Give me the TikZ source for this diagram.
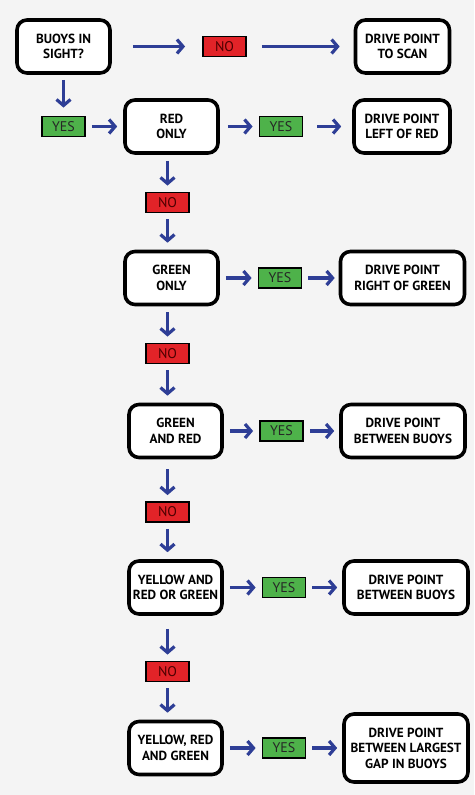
\documentclass[tikz,border=0pt]{standalone}
\usepackage{fontspec}
\setmainfont{PT Sans}
\usetikzlibrary{arrows.meta}
\definecolor{flowblue}{RGB}{46,62,150}
\definecolor{nored}{RGB}{226,35,40}
\definecolor{yesgreen}{RGB}{78,178,74}
\definecolor{paper}{RGB}{244,244,244}

\begin{document}
\begin{tikzpicture}[x=1pt, y=1pt, -{Straight Barb[length=6pt,width=14pt]}, line width=3.2pt, draw=flowblue, shorten <=6pt, shorten >=6pt]

%====Stili dei blocchi========================================================

	\tikzstyle{check}=[draw=black, text=black, fill=white, line width=3.6pt, rounded corners=10pt, minimum width=93pt, minimum height=53pt, inner sep=1pt, align=center, font=\fontsize{13.2}{15.5}\selectfont\bfseries]
	\tikzstyle{goal}=[check, minimum width=124pt]
	\tikzstyle{yesbox}=[draw=black, fill=yesgreen, text=black!85, line width=1.8pt, minimum width=43pt, minimum height=20pt, inner sep=0pt, font=\fontsize{14}{14}\selectfont]
	\tikzstyle{nobox}=[yesbox, fill=nored, text=black!70!red]

	\fill[paper, -, shorten <=0pt, shorten >=0pt] (0,0) rectangle (474,-795);

%====Blocchi e posizione=======================================================
	\node[check]                    (buoys) at (63.5,-46.5)                          {BUOYS IN\\SIGHT?};
	\node[nobox]                    (no0)   [right of=buoys, node distance=161pt]    {NO};
	\node[goal, minimum width=94pt] (scan)  [right of=no0, node distance=178pt]      {DRIVE POINT\\TO SCAN};

	\node[yesbox]                   (yes0)  [below of=buoys, node distance=80pt]     {YES};
	\node[check]                    (red)   [right of=yes0, node distance=108pt]     {RED\\ONLY};
	\node[yesbox]                   (yes1)  [right of=red, node distance=109.5pt]    {YES};
	\node[goal, minimum width=96pt] (left)  [right of=yes1, node distance=121pt]     {DRIVE POINT\\LEFT OF RED};

	\node[nobox]                    (no1)   [below of=red, node distance=76pt, xshift=-4pt]    {NO};
	\node[check]                    (green) [below of=no1, node distance=75.5pt, xshift=4pt]   {GREEN\\ONLY};
	\node[yesbox]                   (yes2)  [right of=green, node distance=108.5pt]  {YES};
	\node[goal]                     (right) [right of=yes2, node distance=122.5pt]   {DRIVE POINT\\RIGHT OF GREEN};

	\node[nobox]                    (no2)   [below of=green, node distance=75.5pt, xshift=-4pt] {NO};
	\node[check]                    (gr)    [below of=no2, node distance=77.5pt, xshift=8pt]    {GREEN\\AND RED};
	\node[yesbox]                   (yes3)  [right of=gr, node distance=106pt]       {YES};
	\node[goal]                     (btw1)  [right of=yes3, node distance=121.5pt]   {DRIVE POINT\\BETWEEN BUOYS};

	\node[nobox]                    (no3)   [below of=gr, node distance=81pt, xshift=-8pt]      {NO};
	\node[check]                    (yrg)   [below of=no3, node distance=75.5pt, xshift=8pt]    {YELLOW AND\\RED OR GREEN};
	\node[yesbox]                   (yes4)  [right of=yrg, node distance=108.5pt]    {YES};
	\node[goal]                     (btw2)  [right of=yes4, node distance=122pt]     {DRIVE POINT\\BETWEEN BUOYS};

	\node[nobox]                    (no4)   [below of=yrg, node distance=84pt, xshift=-8pt]     {NO};
	\node[check]                    (all)   [below of=no4, node distance=76.5pt, xshift=8pt]    {YELLOW, RED\\AND GREEN};
	\node[yesbox]                   (yes5)  [right of=all, node distance=108.5pt]    {YES};
	\node[goal, minimum height=68pt] (gap)  [right of=yes5, node distance=122pt]     {DRIVE POINT\\BETWEEN LARGEST\\GAP IN BUOYS};

%====Frecce==================================================================
	%from                stile                                       to
	\path (buoys)          edge [shorten <=21pt, shorten >=17pt]       (no0)
	      (no0)            edge [shorten <=15pt, shorten >=14pt]       (scan)
	      (buoys)          edge [shorten <=5pt, shorten >=8pt]         (yes0)
	      (yes0)           edge                                        (red)
	      (red)            edge [shorten <=8pt]                        (yes1)
	      (yes1)           edge [shorten <=14pt, shorten >=11pt]       (left)
	      (no1 |- red.south)   edge                                    (no1)
	      (no1)            edge [shorten >=7pt]                        (green.north -| no1)
	      (green)          edge                                        (yes2)
	      (yes2)           edge [shorten >=4pt]                        (right)
	      (no2 |- green.south) edge                                    (no2)
	      (no2)            edge [shorten >=7pt]                        (gr.north -| no2)
	      (gr)             edge                                        (yes3)
	      (yes3)           edge [shorten >=5pt]                        (btw1)
	      (no3 |- gr.south)    edge [shorten <=10pt]                   (no3)
	      (no3)            edge [shorten >=7pt]                        (yrg.north -| no3)
	      (yrg)            edge                                        (yes4)
	      (yes4)           edge [shorten >=5pt]                        (btw2)
	      (no4 |- yrg.south)   edge [shorten <=13pt]                   (no4)
	      (no4)            edge [shorten >=7pt]                        (all.north -| no4)
	      (all)            edge                                        (yes5)
	      (yes5)           edge [shorten >=5pt]                        (gap);
\end{tikzpicture}
\end{document}
